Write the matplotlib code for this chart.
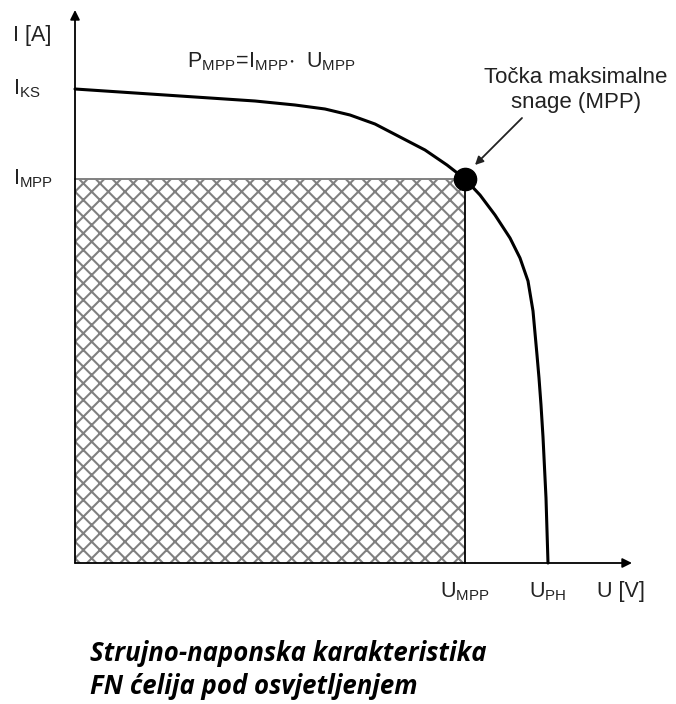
import matplotlib.pyplot as plt
from matplotlib.patches import Rectangle

plt.rcParams['font.family'] = ['Liberation Sans', 'DejaVu Sans']
plt.rcParams['mathtext.fontset'] = 'custom'
plt.rcParams['mathtext.rm'] = 'Liberation Sans'
plt.rcParams['hatch.color'] = '#808080'
plt.rcParams['hatch.linewidth'] = 1.5

# I-U curve of the PV cell
u_curve = [0, 60, 120, 180, 220, 250, 275, 300, 325, 350, 372, 390,
           405, 420, 435, 445, 453, 458, 462, 464, 466, 468, 471, 473]
i_curve = [474, 470, 466, 462, 458, 454, 448, 439, 426, 413, 398, 384,
           368, 348, 325, 305, 282, 252, 208, 185, 158, 126, 65, 0]

U_MPP = 390
I_MPP = 384
U_PH = 473
I_KS = 474

fig = plt.figure(figsize=(6.76, 7.04), dpi=100)
ax = fig.add_axes([0, 0, 1, 1])
ax.set_xlim(-75, 601)
ax.set_ylim(-141, 563)
ax.axis('off')

# hatched power area
ax.add_patch(Rectangle((0, 0), U_MPP, I_MPP, facecolor='white',
                       edgecolor='#808080', hatch='xx', linewidth=0))
ax.plot([U_MPP, U_MPP], [0, I_MPP], color='black', lw=1.3)
ax.plot([0, U_MPP], [I_MPP, I_MPP], color='#808080', lw=1.4)

# axes with arrows
ax.annotate('', xy=(0, 553), xytext=(0, 0),
            arrowprops=dict(arrowstyle='-|>', color='black', lw=1.3,
                            mutation_scale=14, shrinkA=0, shrinkB=0))
ax.annotate('', xy=(557, 0), xytext=(0, 0),
            arrowprops=dict(arrowstyle='-|>', color='black', lw=1.3,
                            mutation_scale=14, shrinkA=0, shrinkB=0))

# curve and MPP
ax.plot(u_curve, i_curve, color='black', lw=2.2, solid_capstyle='round',
        solid_joinstyle='round')
ax.plot([U_MPP], [I_MPP], 'o', color='black', markersize=16, zorder=5)

ax.annotate('', xy=(400, 398), xytext=(447, 445),
            arrowprops=dict(arrowstyle='-|>', color='#222222', lw=1.3,
                            mutation_scale=12, shrinkA=0, shrinkB=0))

tc = '#222222'
fs = 15.5
ax.text(-62, 527, 'I [A]', fontsize=fs, color=tc, va='center', ha='left')
ax.text(-62, I_KS, r'$\mathregular{I_{KS}}$', fontsize=fs, color=tc, va='center', ha='left')
ax.text(-62, I_MPP, r'$\mathregular{I_{MPP}}$', fontsize=fs, color=tc, va='center', ha='left')
ax.text(112, 501, r'$\mathregular{P_{MPP}\!=\!I_{MPP}\!\cdot\ U_{MPP}}$', fontsize=fs,
        color=tc, va='center', ha='left')
ax.text(501, 473, 'Točka maksimalne\nsnage (MPP)', fontsize=16, color=tc,
        va='center', ha='center', linespacing=1.2)

ax.text(U_MPP, -29, r'$\mathregular{U_{MPP}}$', fontsize=fs, color=tc, va='center', ha='center')
ax.text(U_PH, -29, r'$\mathregular{U_{PH}}$', fontsize=fs, color=tc, va='center', ha='center')
ax.text(522, -29, 'U [V]', fontsize=fs, color=tc, va='center', ha='left')

ax.text(15, -107, 'Strujno-naponska karakteristika\nFN ćelija pod osvjetljenjem',
        fontsize=18.5, fontweight='bold', fontstyle='italic', family=['Open Sans', 'DejaVu Sans'],
        color='black', va='center', ha='left', linespacing=1.3)

fig.savefig('out.png', dpi=100)
